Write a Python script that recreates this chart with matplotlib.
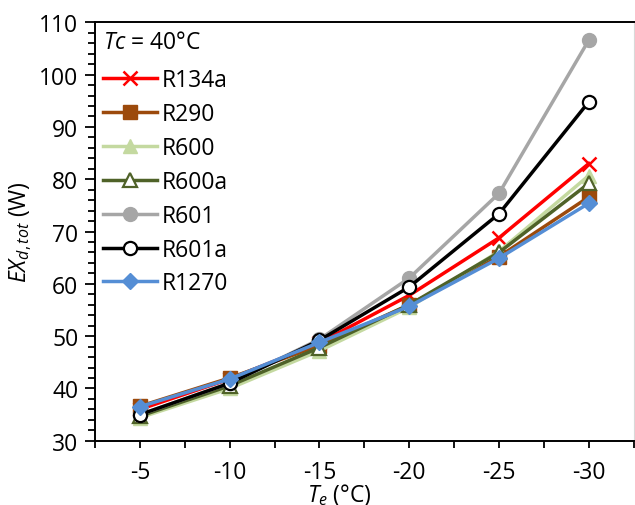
import matplotlib
matplotlib.use("Agg")
import matplotlib.pyplot as plt
from matplotlib.ticker import MultipleLocator

plt.rcParams["font.family"] = ["Open Sans", "DejaVu Sans"]
plt.rcParams["mathtext.fontset"] = "custom"
plt.rcParams["mathtext.rm"] = "Open Sans"
plt.rcParams["mathtext.it"] = "Open Sans:italic"

FS = 16.5

# evaporating temperature categories (deg C)
te_labels = ["-5", "-10", "-15", "-20", "-25", "-30"]

# total exergy destruction (W) per refrigerant
ex_r134a = [36.0, 41.8, 48.7, 57.8, 68.8, 83.0]
ex_r290 = [36.6, 42.0, 48.2, 56.0, 65.2, 76.6]
ex_r600 = [34.4, 40.0, 47.2, 55.5, 66.2, 80.7]
ex_r600a = [34.7, 40.5, 47.8, 56.0, 66.0, 79.2]
ex_r601 = [35.0, 41.0, 49.4, 61.1, 77.3, 106.6]
ex_r601a = [35.0, 41.0, 49.2, 59.4, 73.4, 94.8]
ex_r1270 = [36.5, 41.8, 48.8, 55.7, 64.9, 75.4]

SERIES = [
    ("R134a", ex_r134a, dict(color="#FF0000", marker="x", ms=10, mew=1.8)),
    ("R290", ex_r290, dict(color="#9C4A0C", marker="s", ms=10)),
    ("R600", ex_r600, dict(color="#C4D9A0", marker="^", ms=10)),
    ("R600a", ex_r600a, dict(color="#4F6228", marker="^", ms=10, mfc="white", mew=1.6)),
    ("R601", ex_r601, dict(color="#A6A6A6", marker="o", ms=10)),
    ("R601a", ex_r601a, dict(color="#000000", marker="o", ms=9.5, mfc="white", mew=1.6)),
    ("R1270", ex_r1270, dict(color="#558ED5", marker="D", ms=8.5)),
]

fig = plt.figure(figsize=(6.35, 5.06), dpi=100, facecolor="white")
ax = fig.add_axes([0.1496, 0.127, 0.8484, 0.827])

x = list(range(len(te_labels)))
for name, vals, style in SERIES:
    ax.plot(x, vals, lw=2.5, label=name, zorder=3, **style)

ax.set_xlim(-0.5, len(te_labels) - 0.5)
ax.set_ylim(30, 110)
ax.set_xticks(x)
ax.set_xticklabels(te_labels)
ax.xaxis.set_minor_locator(MultipleLocator(0.5))
ax.yaxis.set_major_locator(MultipleLocator(10))
ax.yaxis.set_minor_locator(MultipleLocator(2))

ax.tick_params(axis="both", which="major", labelsize=FS, color="black",
               width=1.3, length=7, direction="out")
ax.tick_params(axis="y", which="minor", width=1.3, length=5, direction="out")
ax.tick_params(axis="x", which="major", length=5, pad=9)
ax.tick_params(axis="x", which="minor", width=1.3, length=5, direction="out")
ax.tick_params(axis="y", which="major", pad=5)

for side in ["left", "bottom", "top"]:
    ax.spines[side].set_linewidth(1.4)
    ax.spines[side].set_color("black")
ax.spines["right"].set_color("#D9D9D9")
ax.spines["right"].set_linewidth(0.8)

ax.set_ylabel(r"$EX_{d,tot}$ (W)", fontsize=FS, labelpad=4)
fig.text(0.535, 0.021, r"$T_e$ (°C)", fontsize=FS, ha="center", va="center")

ax.text(0.015, 0.953, r"$Tc$ = 40°C", transform=ax.transAxes, fontsize=FS,
        ha="left", va="center")
ax.legend(loc="upper left", bbox_to_anchor=(0.015, 0.89), frameon=False,
          fontsize=FS, handlelength=2.36, handletextpad=0.2,
          labelspacing=0.43, borderaxespad=0.0, borderpad=0.0)

fig.savefig("out.png", dpi=100, facecolor="white")
